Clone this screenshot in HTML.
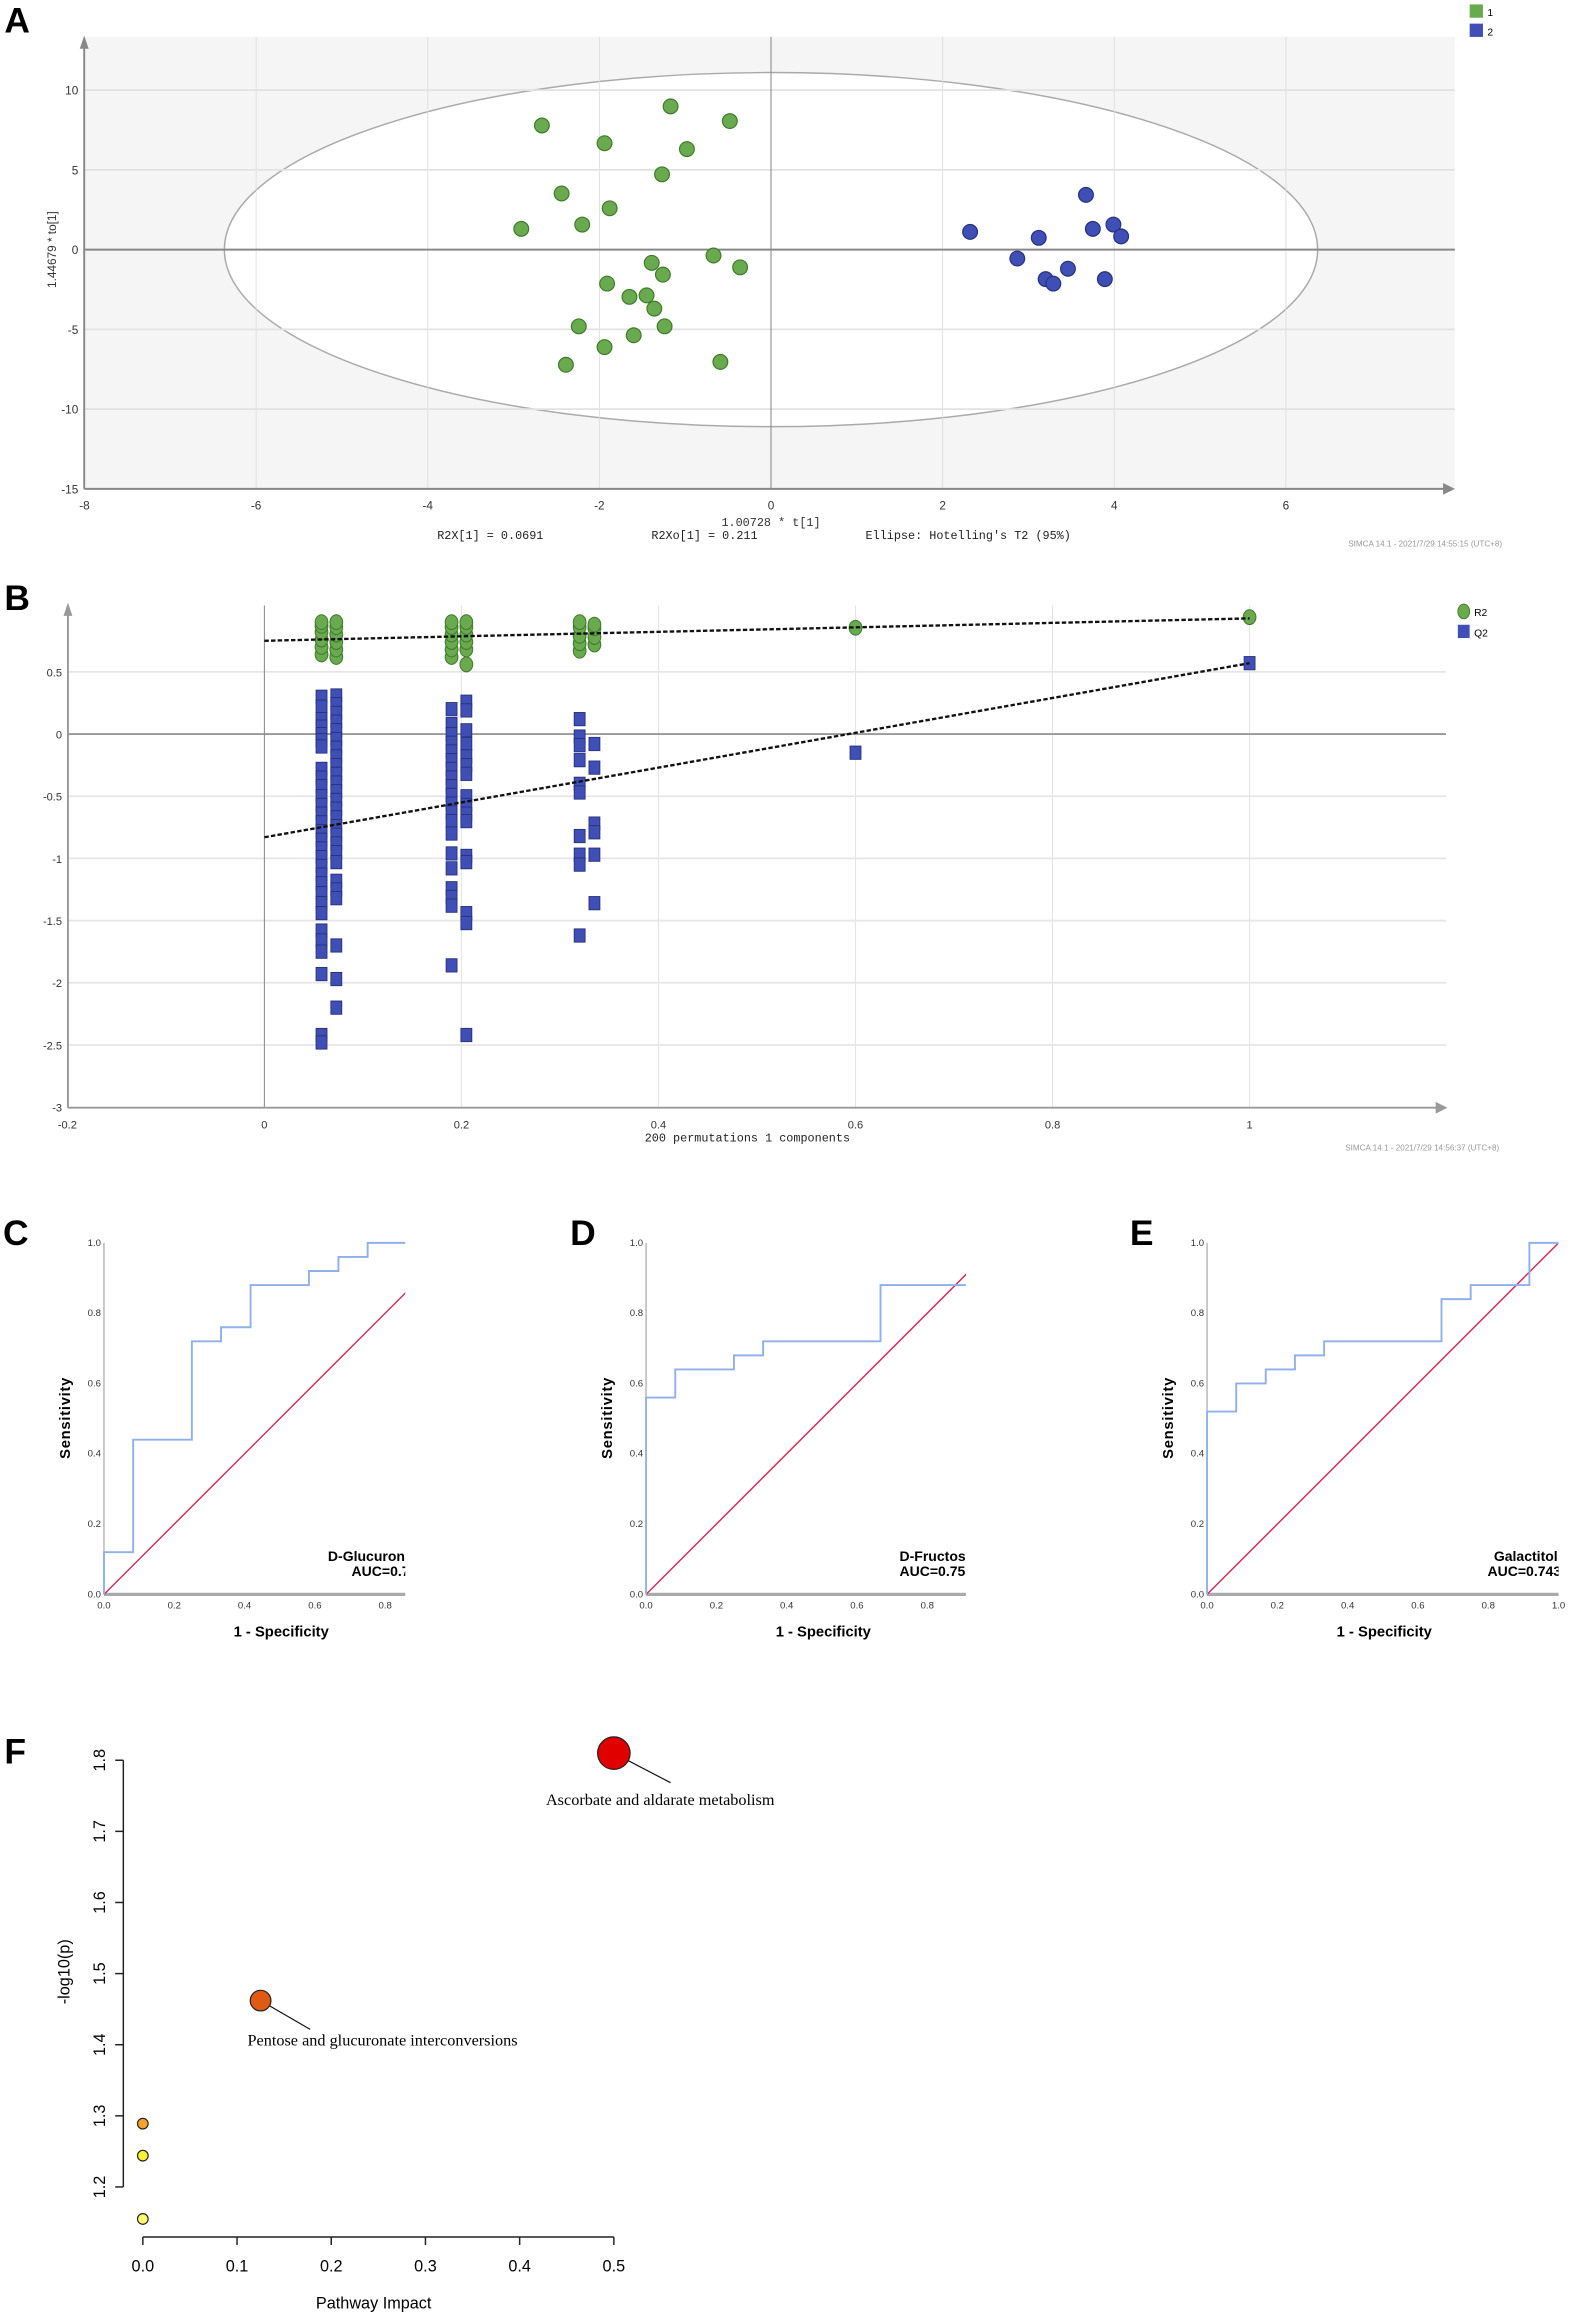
<!DOCTYPE html>
<html><head><meta charset="utf-8"><style>
html,body{margin:0;padding:0;background:#fff;}
svg{display:block;font-family:"Liberation Sans",sans-serif;}
</style></head><body>
<svg id="fig" width="1576" height="2315" viewBox="0 0 1067 1567.4" preserveAspectRatio="none" xmlns="http://www.w3.org/2000/svg">
</svg>
<script>
// ---------- DATA ----------
const aGroup1X = [-2.67,-1.17,-0.48,-1.94,-0.98,-1.27,-2.44,-1.88,-2.20,-2.91,-0.67,-0.36,-1.39,-1.26,-1.91,-1.65,-1.45,-1.36,-2.24,-1.24,-1.60,-1.94,-2.39,-0.59];
const aGroup1Y = [7.78,8.98,8.06,6.67,6.30,4.72,3.52,2.59,1.57,1.30,-0.37,-1.11,-0.83,-1.57,-2.13,-2.96,-2.87,-3.70,-4.81,-4.81,-5.37,-6.11,-7.22,-7.04];
const aGroup2X = [2.32,3.12,3.67,3.75,3.99,4.08,2.87,3.46,3.20,3.29,3.89];
const aGroup2Y = [1.11,0.74,3.43,1.30,1.57,0.83,-0.56,-1.20,-1.85,-2.13,-1.85];
const aXTicks = [-8,-6,-4,-2,0,2,4,6];
const aYTicks = [10,5,0,-5,-10,-15];
const bR2Cols = [0.058,0.073,0.19,0.205,0.32,0.335];
const bR2Vals = [[0.64,0.7,0.76,0.82,0.87,0.9],[0.62,0.68,0.74,0.8,0.86,0.9],[0.62,0.68,0.74,0.8,0.86,0.9],[0.56,0.68,0.74,0.8,0.86,0.9],[0.67,0.73,0.79,0.86,0.9],[0.72,0.78,0.85,0.88]];
const bQ2Vals = [
 [0.30,0.22,0.12,0.06,0.0,-0.05,-0.10,-0.28,-0.35,-0.42,-0.5,-0.57,-0.64,-0.71,-0.78,-0.85,-0.92,-0.99,-1.06,-1.13,-1.2,-1.28,-1.36,-1.44,-1.58,-1.66,-1.75,-1.93,-2.42,-2.48],
 [0.31,0.24,0.17,0.10,0.03,-0.04,-0.11,-0.18,-0.25,-0.32,-0.39,-0.46,-0.53,-0.60,-0.67,-0.74,-0.81,-0.88,-0.95,-1.03,-1.18,-1.25,-1.32,-1.70,-1.97,-2.2],
 [0.2,0.08,0.0,-0.07,-0.14,-0.21,-0.28,-0.35,-0.42,-0.49,-0.56,-0.63,-0.70,-0.8,-0.96,-1.08,-1.24,-1.31,-1.38,-1.86],
 [0.26,0.19,0.03,-0.08,-0.18,-0.25,-0.32,-0.5,-0.57,-0.64,-0.7,-0.98,-1.03,-1.44,-1.52,-2.42],
 [0.12,-0.02,-0.09,-0.21,-0.4,-0.47,-0.82,-0.97,-1.05,-1.62],
 [-0.08,-0.27,-0.72,-0.79,-0.97,-1.36]];
const bR2ExtraX = [0.6,1.0];
const bR2ExtraY = [0.855,0.94];
const bQ2ExtraX = [0.6,1.0];
const bQ2ExtraY = [-0.15,0.57];
const bR2Line = [0.75,0.93];
const bQ2Line = [-0.83,0.57];
const bXTicks = [-0.2,0,0.2,0.4,0.6,0.8,1];
const bYTicks = [0.5,0,-0.5,-1,-1.5,-2,-2.5,-3];
const rocCX = [0,0,0.083,0.083,0.25,0.25,0.333,0.333,0.417,0.417,0.583,0.583,0.667,0.667,0.75,0.75,1];
const rocCY = [0,0.12,0.12,0.44,0.44,0.72,0.72,0.76,0.76,0.88,0.88,0.92,0.92,0.96,0.96,1,1];
const rocDX = [0,0,0.083,0.083,0.25,0.25,0.333,0.333,0.667,0.667,1];
const rocDY = [0,0.56,0.56,0.64,0.64,0.68,0.68,0.72,0.72,0.88,0.88];
const rocEX = [0,0,0.083,0.083,0.167,0.167,0.25,0.25,0.333,0.333,0.667,0.667,0.75,0.75,0.917,0.917,1];
const rocEY = [0,0.52,0.52,0.6,0.6,0.64,0.64,0.68,0.68,0.72,0.72,0.84,0.84,0.88,0.88,1,1];
const rocTicks = [0,0.2,0.4,0.6,0.8,1.0];
const fImpact = [0.5,0.125,0,0,0];
const fLogP = [1.81,1.462,1.289,1.244,1.155];
const fRadius = [11,7,3.6,3.6,3.6];
const fColors = ["#e00000","#e05a14","#f5a22a","#fdf030","#ffff70"];
const fXTicks = [0,0.1,0.2,0.3,0.4,0.5];
const fYTicks = [1.2,1.3,1.4,1.5,1.6,1.7,1.8];

// ---------- HELPERS ----------
const NS="http://www.w3.org/2000/svg";
const svg=document.getElementById('fig');
function mk(tag,attrs,parent){const e=document.createElementNS(NS,tag);for(const k in attrs)e.setAttribute(k,attrs[k]);(parent||svg).appendChild(e);return e;}
function txt(s,attrs,parent){const e=mk('text',attrs,parent);e.textContent=s;return e;}
let el;
const MONO='Liberation Mono, monospace';
const SERIF='Liberation Serif, serif';

// ================= PANEL A =================
const gA=mk('g',{});


const ax=v=>522+v*58.1, ay=v=>169-v*10.8;
el=txt('A',{x:3,y:22,'font-size':24,'font-weight':'bold'},gA);


el=mk('rect',{x:57,y:25,width:928,height:306,fill:'#f5f5f5'},gA);


el=mk('ellipse',{cx:ax(0),cy:ay(0),rx:6.37*58.1,ry:11.1*10.8,fill:'#fff',stroke:'#aaa','stroke-width':1},gA);


aXTicks.forEach(t=>{ if(t!==-8&&t!==0){
  el=mk('line',{x1:ax(t),x2:ax(t),y1:25,y2:331,stroke:'#ddd','stroke-width':0.6},gA);
  
  }
  el=txt(String(t),{x:ax(t),y:345,'font-size':8,'text-anchor':'middle',fill:'#333'},gA);
  
  
});
aYTicks.forEach(t=>{ if(t!==0&&t!==-15){
  el=mk('line',{x1:57,x2:985,y1:ay(t),y2:ay(t),stroke:'#e2e2e2','stroke-width':1.2},gA);
  
  }
  el=txt(String(t),{x:53,y:ay(t)+3,'font-size':8,'text-anchor':'end',fill:'#333'},gA);
  
  
});
el=mk('line',{x1:57,x2:985,y1:ay(0),y2:ay(0),stroke:'#888','stroke-width':1.3},gA);


el=mk('line',{x1:ax(0),x2:ax(0),y1:25,y2:331,stroke:'#888','stroke-width':0.7},gA);


el=mk('path',{d:'M57,331 H980 M57,331 V30',stroke:'#888','stroke-width':1.3,fill:'none'},gA);


el=mk('path',{d:'M985,331 L977,327 L977,335 Z M57,24 L54,33 L60,33 Z',fill:'#888'},gA);


aGroup1X.forEach((x,i)=>{
  el=mk('ellipse',{cx:ax(x),cy:ay(aGroup1Y[i]),rx:5,ry:5,fill:'#6aaa4e',stroke:'#3f7a2c','stroke-width':0.8},gA);
  
  
});
aGroup2X.forEach((x,i)=>{
  el=mk('ellipse',{cx:ax(x),cy:ay(aGroup2Y[i]),rx:5,ry:5,fill:'#3f4fb5',stroke:'#27307a','stroke-width':0.8},gA);
  
  
});
el=mk('rect',{x:995,y:3,width:9,height:9,fill:'#6aaa4e'},gA);


el=txt('1',{x:1007,y:11,'font-size':7},gA);


el=mk('rect',{x:995,y:16,width:9,height:9,fill:'#3f4fb5'},gA);


el=txt('2',{x:1007,y:24,'font-size':7},gA);


el=txt('1.00728 * t[1]',{x:522,y:356,'font-size':8,'text-anchor':'middle','font-family':MONO,fill:'#333'},gA);


el=txt('1.44679 * to[1]',{x:0,y:0,'font-size':8,'text-anchor':'middle',transform:'translate(38,169) rotate(-90)',fill:'#333'},gA);


[['R2X[1] = 0.0691',296],['R2Xo[1] = 0.211',441],["Ellipse: Hotelling's T2 (95%)",586]].forEach(p=>{
  el=txt(p[0],{x:p[1],y:365,'font-size':8,'font-family':MONO,fill:'#222'},gA);
  
  
});
el=txt('SIMCA 14.1 - 2021/7/29 14:55:15 (UTC+8)',{x:1017,y:370,'font-size':5.5,'text-anchor':'end',fill:'#999'},gA);



// ================= PANEL B =================
const gB=mk('g',{});


const bx=v=>179+v*667, by=v=>497-v*84.2;
el=txt('B',{x:3,y:413,'font-size':24,'font-weight':'bold'},gB);


bXTicks.forEach(t=>{
  if(t>0){el=mk('line',{x1:bx(t),x2:bx(t),y1:410,y2:750,stroke:'#e4e4e4','stroke-width':0.7},gB);
  
  }
  el=txt(String(t),{x:bx(t),y:764,'font-size':7.5,'text-anchor':'middle',fill:'#333'},gB);
  
  
});
bYTicks.forEach(t=>{
  if(t!==0&&t!==-3){el=mk('line',{x1:46,x2:979,y1:by(t),y2:by(t),stroke:'#e6e6e6','stroke-width':1.2},gB);
  
  }
  el=txt(String(t),{x:42,y:by(t)+3,'font-size':7.5,'text-anchor':'end',fill:'#333'},gB);
  
  
});
el=mk('line',{x1:46,x2:979,y1:by(0),y2:by(0),stroke:'#999','stroke-width':1.2},gB);


el=mk('line',{x1:bx(0),x2:bx(0),y1:410,y2:750,stroke:'#888','stroke-width':0.7},gB);


el=mk('path',{d:'M46,750 H975 M46,750 V414',stroke:'#999','stroke-width':1.3,fill:'none'},gB);


el=mk('path',{d:'M980,750 L972,746 L972,754 Z M46,408 L43,417 L49,417 Z',fill:'#999'},gB);


bQ2Vals.forEach((col,ci)=>col.forEach(v=>{
  el=mk('rect',{x:bx(bR2Cols[ci])-3.7,y:by(v)-4.5,width:7.4,height:9,fill:'#3f4fb5',stroke:'#27307a','stroke-width':0.6},gB);
  
  
}));
bQ2ExtraX.forEach((x,i)=>{
  el=mk('rect',{x:bx(x)-3.7,y:by(bQ2ExtraY[i])-4.5,width:7.4,height:9,fill:'#3f4fb5',stroke:'#27307a','stroke-width':0.6},gB);
  
  
});
bR2Vals.forEach((col,ci)=>col.forEach(v=>{
  el=mk('ellipse',{cx:bx(bR2Cols[ci]),cy:by(v),rx:4.3,ry:5,fill:'#6aaa4e',stroke:'#3f7a2c','stroke-width':0.7},gB);
  
  
}));
bR2ExtraX.forEach((x,i)=>{
  el=mk('ellipse',{cx:bx(x),cy:by(bR2ExtraY[i]),rx:4.3,ry:5,fill:'#6aaa4e',stroke:'#3f7a2c','stroke-width':0.7},gB);
  
  
});
el=mk('line',{x1:bx(0),y1:by(bR2Line[0]),x2:bx(1),y2:by(bR2Line[1]),stroke:'#111','stroke-width':1.6,'stroke-dasharray':'3,1.5'},gB);


el=mk('line',{x1:bx(0),y1:by(bQ2Line[0]),x2:bx(1),y2:by(bQ2Line[1]),stroke:'#111','stroke-width':1.6,'stroke-dasharray':'3,1.5'},gB);


el=mk('ellipse',{cx:991,cy:414,rx:4,ry:5,fill:'#6aaa4e',stroke:'#3f7a2c','stroke-width':0.6},gB);


el=txt('R2',{x:998,y:417,'font-size':7},gB);


el=mk('rect',{x:987,y:423,width:8,height:9,fill:'#3f4fb5'},gB);


el=txt('Q2',{x:998,y:431,'font-size':7},gB);


el=txt('200 permutations 1 components',{x:506,y:773,'font-size':8,'text-anchor':'middle','font-family':MONO,fill:'#222'},gB);


el=txt('SIMCA 14.1 - 2021/7/29 14:56:37 (UTC+8)',{x:1015,y:779,'font-size':5.5,'text-anchor':'end',fill:'#999'},gB);



// ================= ROC PANELS =================
function roc(id,letter,letterX,x0,clipMax,XS,YS,name,auc,nameX,aucX,anchor){
  const g=mk('g',{});
  
  
  const s=238, yb=1079.5;
  const rx=v=>x0+v*s, ry=v=>yb-v*s;
  const cp=mk('clipPath',{id:'clip'+id},g);
  mk('rect',{x:x0-2,y:ry(1)-3,width:clipMax*s+2,height:s+6},cp);
  el=txt(letter,{x:letterX,y:843,'font-size':24,'font-weight':'bold'},g);
  
  
  el=mk('line',{x1:x0,x2:x0,y1:ry(1),y2:yb,stroke:'#999','stroke-width':0.7},g);
  
  
  el=mk('line',{x1:x0,x2:x0+clipMax*s,y1:yb,y2:yb,stroke:'#aaa','stroke-width':2.2},g);
  
  
  rocTicks.forEach(t=>{
    if(t<=clipMax+0.001){el=txt(t.toFixed(1),{x:rx(t),y:1089,'font-size':6.5,'text-anchor':'middle',fill:'#333'},g);
    
    }
    el=txt(t.toFixed(1),{x:x0-2,y:ry(t)+2,'font-size':6.5,'text-anchor':'end',fill:'#333'},g);
    
    
  });
  const gc=mk('g',{'clip-path':'url(#clip'+id+')'},g);
  el=mk('line',{x1:rx(0),y1:ry(0),x2:rx(1),y2:ry(1),stroke:'#d0305a','stroke-width':1},gc);
  
  
  el=mk('polyline',{points:XS.map((x,i)=>rx(x)+','+ry(YS[i])).join(' '),fill:'none',stroke:'#8fb0ea','stroke-width':1.3},gc);
  
  
  el=txt(name,{x:nameX,y:1057,'font-size':9.5,'font-weight':'bold','text-anchor':anchor},gc);
  
  
  el=txt(auc,{x:aucX,y:1067,'font-size':9.5,'font-weight':'bold','text-anchor':anchor},gc);
  
  
  el=txt('Sensitivity',{x:0,y:0,'font-size':10,'font-weight':'bold','text-anchor':'middle','letter-spacing':'0.5',transform:'translate('+(x0-23)+',960) rotate(-90)'},g);
  
  
  el=txt('1 - Specificity',{x:x0+120,y:1108,'font-size':10,'font-weight':'bold','text-anchor':'middle'},g);
  
  
}
roc('c','C',2,70.4,0.857,rocCX,rocCY,'D-Glucuronic acid','AUC=0.742',222,238,'start');
roc('d','D',386,437.4,0.91,rocDX,rocDY,'D-Fructose','AUC=0.753',609,609,'start');
roc('e','E',765,817.2,1.0,rocEX,rocEY,'Galactitol','AUC=0.743',1033,1032,'middle');

// ================= PANEL F =================
const gF=mk('g',{});


const fx=v=>96.7+v*637.8, fy=v=>1191.8-(v-1.8)*481.5;
el=txt('F',{x:3,y:1194,'font-size':24,'font-weight':'bold'},gF);


el=mk('line',{x1:83.5,x2:83.5,y1:fy(1.8),y2:fy(1.2),stroke:'#222','stroke-width':1},gF);


el=mk('line',{x1:fx(0),x2:fx(0.5),y1:1514.6,y2:1514.6,stroke:'#222','stroke-width':1},gF);


fYTicks.forEach(t=>{
  el=mk('line',{x1:78,x2:83.5,y1:fy(t),y2:fy(t),stroke:'#222','stroke-width':1},gF);
  
  
  el=txt(t.toFixed(1),{x:0,y:0,'font-size':11,'text-anchor':'middle',transform:'translate(71,'+fy(t)+') rotate(-90)'},gF);
  
  
});
fXTicks.forEach(t=>{
  el=mk('line',{x1:fx(t),x2:fx(t),y1:1514.6,y2:1520,stroke:'#222','stroke-width':1},gF);
  
  
  el=txt(t.toFixed(1),{x:fx(t),y:1538,'font-size':11,'text-anchor':'middle'},gF);
  
  
});
el=mk('line',{x1:fx(fImpact[0]),y1:fy(fLogP[0]),x2:454,y2:1207,stroke:'#111','stroke-width':0.8},gF);


el=mk('line',{x1:fx(fImpact[1]),y1:fy(fLogP[1]),x2:210,y2:1374,stroke:'#111','stroke-width':0.8},gF);


fImpact.forEach((x,i)=>{
  el=mk('circle',{cx:fx(x),cy:fy(fLogP[i]),r:fRadius[i],fill:fColors[i],stroke:'#222','stroke-width':0.8},gF);
  
  
});
el=txt('Ascorbate and aldarate metabolism',{x:447,y:1222,'font-size':11,'text-anchor':'middle','font-family':SERIF},gF);


el=txt('Pentose and glucuronate interconversions',{x:259,y:1385,'font-size':11,'text-anchor':'middle','font-family':SERIF},gF);


el=txt('Pathway Impact',{x:253,y:1563,'font-size':11,'text-anchor':'middle'},gF);


el=txt('-log10(p)',{x:0,y:0,'font-size':11,'text-anchor':'middle',transform:'translate(47,1335) rotate(-90)'},gF);


</script>
</body></html>
